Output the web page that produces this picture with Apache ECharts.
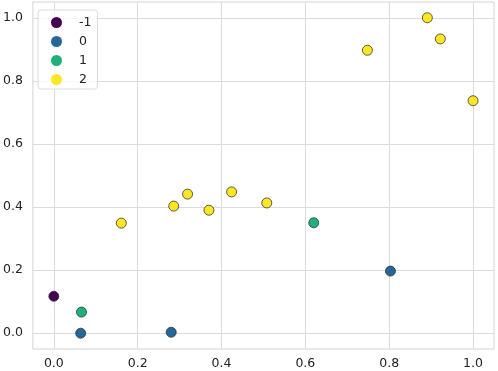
<!DOCTYPE html>
<html>
<head>
<meta charset="utf-8">
<script src="https://cdn.jsdelivr.net/npm/echarts@6/dist/echarts.min.js"></script>
<style>
  html, body {margin: 0; padding: 0; background: #fff;}
  #chart {width: 498px; height: 371px;}
</style>
</head>
<body>
<div id="chart"></div>
<script>
// cluster labels and points (x, y)
const clusterNames = ['-1', '0', '1', '2'];
const clusterColors = ['#440154', '#24679a', '#20b07a', '#fde725'];
const clusterNoise = [[0.0, 0.117]];
const cluster0 = [[0.064, 0.0], [0.280, 0.003], [0.803, 0.197]];
const cluster1 = [[0.066, 0.067], [0.620, 0.350]];
const cluster2 = [
    [0.161, 0.349], [0.286, 0.403], [0.319, 0.441], [0.370, 0.390],
    [0.424, 0.448], [0.508, 0.413], [0.748, 0.897], [0.891, 1.0],
    [0.922, 0.933], [1.0, 0.737]
];
const tickValues = [0, 0.2, 0.4, 0.6, 0.8, 1.0];

const clusterData = [clusterNoise, cluster0, cluster1, cluster2];

const chart = echarts.init(document.getElementById('chart'));

const axisCommon = {
    type: 'value',
    min: -0.05,
    max: 1.05,
    axisLine: {show: false},
    axisTick: {show: false, customValues: tickValues},
    axisLabel: {
        customValues: tickValues,
        formatter: v => v.toFixed(1),
        color: '#222222',
        fontFamily: 'DejaVu Sans',
        fontSize: 12.5
    },
    splitLine: {show: true, lineStyle: {color: '#dcdcdc', width: 1}}
};

chart.setOption({
    animation: false,
    textStyle: {fontFamily: 'DejaVu Sans'},
    grid: {
        left: 31,
        right: 4,
        top: 2,
        bottom: 22,
        show: true,
        borderColor: '#d4d4d4',
        borderWidth: 1
    },
    legend: {
        orient: 'vertical',
        left: 38,
        top: 10,
        padding: [6, 6, 3, 13],
        itemGap: 6,
        itemWidth: 11,
        itemHeight: 11,
        icon: 'circle',
        backgroundColor: 'rgba(255,255,255,0.8)',
        borderColor: '#dcdcdc',
        borderWidth: 1,
        borderRadius: 3,
        itemStyle: {borderWidth: 0},
        textStyle: {color: '#222222', fontSize: 12.5, padding: [0, 0, 0, 12]},
        data: clusterNames
    },
    xAxis: Object.assign({}, axisCommon, {
        axisLabel: Object.assign({}, axisCommon.axisLabel, {margin: 8})
    }),
    yAxis: Object.assign({}, axisCommon, {
        axisLabel: Object.assign({}, axisCommon.axisLabel, {margin: 10})
    }),
    series: clusterNames.map((name, i) => ({
        name: name,
        type: 'scatter',
        symbolSize: 10,
        data: clusterData[i],
        itemStyle: {
            color: clusterColors[i],
            borderColor: '#333333',
            borderWidth: 0.8,
            opacity: 1
        }
    }))
});
</script>
</body>
</html>
